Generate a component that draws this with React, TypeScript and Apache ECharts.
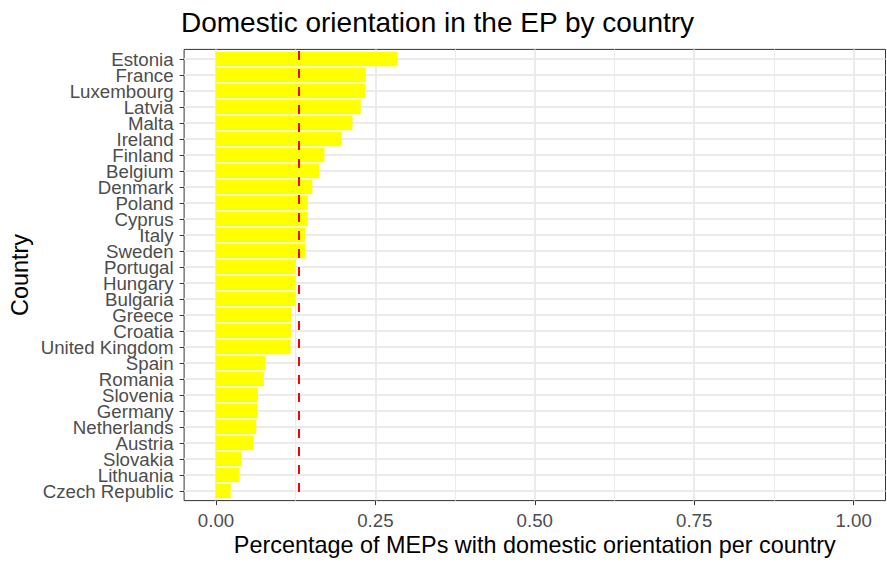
import React, { useEffect, useRef } from "react";
import * as echarts from "echarts";

const countries = [
  "Estonia", "France", "Luxembourg", "Latvia", "Malta", "Ireland", "Finland",
  "Belgium", "Denmark", "Poland", "Cyprus", "Italy", "Sweden", "Portugal",
  "Hungary", "Bulgaria", "Greece", "Croatia", "United Kingdom", "Spain",
  "Romania", "Slovenia", "Germany", "Netherlands", "Austria", "Slovakia",
  "Lithuania", "Czech Republic",
];
const shares = [
  0.285, 0.235, 0.234, 0.227, 0.214, 0.197, 0.170, 0.162, 0.151, 0.144,
  0.144, 0.140, 0.140, 0.125, 0.125, 0.125, 0.118, 0.118, 0.117, 0.077,
  0.075, 0.066, 0.065, 0.063, 0.059, 0.040, 0.037, 0.023,
];
const meanShare = 0.131;

const titleText = "Domestic orientation in the EP by country";
const xTitle = "Percentage of MEPs with domestic orientation per country";
const yTitle = "Country";

const FONT = "Liberation Sans, Arial, Helvetica, sans-serif";

export default function App() {
  const ref = useRef<HTMLDivElement>(null);
  useEffect(() => {
    if (!ref.current) return;
    const chart = echarts.init(ref.current, undefined, { renderer: "svg" });
    const panel = { left: 184.1, right: 1.5, top: 49.4, bottom: 64.4 };
    const option: any = {
      animation: false,
      backgroundColor: "#ffffff",
      textStyle: { fontFamily: FONT },
      grid: [
        { ...panel, show: true, borderColor: "#333333", borderWidth: 1, backgroundColor: "transparent", containLabel: false },
        { left: 216, right: 33.4, top: 49.4, bottom: 64.4, containLabel: false },
        { left: 184.1, right: 1.5, top: 59, bottom: 74, containLabel: false },
        { left: 216, right: 33.4, top: 51, bottom: 66, containLabel: false },
      ],
      xAxis: [
        { gridIndex: 0, type: "value", show: false, min: 0, max: 1 },
        {
          gridIndex: 1, type: "value", min: 0, max: 1, interval: 0.25,
          axisLine: { show: false },
          axisTick: { show: true, length: 4.5, lineStyle: { color: "#333333", width: 1 } },
          axisLabel: {
            color: "#4d4d4d", fontSize: 18.7, margin: 10, fontFamily: FONT,
            formatter: (v: number) => v.toFixed(2),
          },
          splitLine: { show: true, lineStyle: { color: "#ebebeb", width: 2 } },
          minorTick: { show: false, splitNumber: 2 },
          minorSplitLine: { show: true, lineStyle: { color: "#ebebeb", width: 1 } },
        },
        { gridIndex: 2, type: "value", show: false, min: 0, max: 1 },
        { gridIndex: 3, type: "value", show: false, min: 0, max: 1 },
      ],
      yAxis: [
        { gridIndex: 0, type: "value", show: false },
        { gridIndex: 1, type: "value", show: false },
        {
          gridIndex: 2, type: "category", data: countries, inverse: true, boundaryGap: false,
          axisLine: { show: false },
          axisTick: { show: true, interval: 0, length: 4.5, lineStyle: { color: "#333333", width: 1 } },
          axisLabel: { interval: 0, color: "#4d4d4d", fontSize: 18.7, lineHeight: 15, margin: 10.5, fontFamily: FONT },
          splitLine: { show: true, interval: 0, lineStyle: { color: "#ebebeb", width: 2 } },
        },
        { gridIndex: 3, type: "category", data: countries, inverse: true, show: false },
      ],
      series: [
        {
          type: "bar",
          xAxisIndex: 3,
          yAxisIndex: 3,
          data: shares,
          barWidth: "90%",
          itemStyle: { color: "#ffff00" },
          z: 2,
          markLine: {
            silent: true,
            symbol: ["none", "none"],
            label: { show: false },
            lineStyle: { color: "#ff0000", type: [9, 9], width: 2 },
            data: [{ xAxis: meanShare }],
          },
        },
      ],
      graphic: [
        {
          type: "text", x: 181, y: 22.4,
          style: { text: titleText, fontSize: 28, fontFamily: FONT, fill: "#000000", align: "left", verticalAlign: "middle", textAlign: "left", textVerticalAlign: "middle" },
        },
        {
          type: "text", x: 534.8, y: 545,
          style: { text: xTitle, fontSize: 23.4, fontFamily: FONT, fill: "#000000", align: "center", verticalAlign: "middle", textAlign: "center", textVerticalAlign: "middle" },
        },
        {
          type: "text", x: 20, y: 275, rotation: Math.PI / 2,
          style: { text: yTitle, fontSize: 23.4, fontFamily: FONT, fill: "#000000", align: "center", verticalAlign: "middle", textAlign: "center", textVerticalAlign: "middle" },
        },
      ],
    };
    chart.setOption(option);
    return () => chart.dispose();
  }, []);
  return (
    <div
      ref={ref}
      style={{ position: "fixed", left: 0, top: 0, width: 887, height: 565 }}
    />
  );
}
